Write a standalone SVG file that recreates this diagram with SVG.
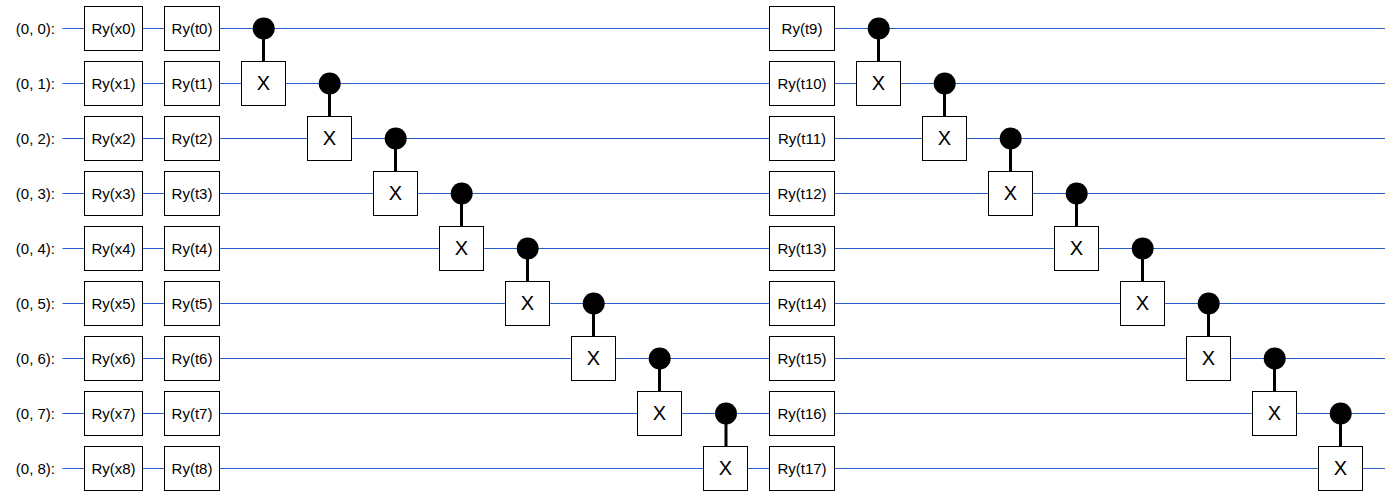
<svg xmlns="http://www.w3.org/2000/svg" width="1395" height="497" viewBox="0 0 1395 497">
<style>
.w{stroke:#2a5fc9;stroke-width:1;fill:none}
.b{fill:#fff;stroke:#000;stroke-width:1}
.c{stroke:#000;stroke-width:3;fill:none}
.d{fill:#000}
text{font-family:"Liberation Sans",Arial,sans-serif;fill:#000;text-anchor:middle;font-size:15px}
.x{font-size:20px}
.l{text-anchor:end}
</style>
<rect width="1395" height="497" fill="#fff"/>
<g id="connectors">
<path class="w" d="M62.5 28.5H1385M62.5 83.5H1385M62.5 138.5H1385M62.5 193.5H1385M62.5 248.5H1385M62.5 303.5H1385M62.5 358.5H1385M62.5 413.5H1385M62.5 468.5H1385"/>
<path class="c" d="M263.5 28.5V61M329.5 83.5V116M395.5 138.5V171M461.5 193.5V226M527.5 248.5V281M593.5 303.5V336M659.5 358.5V391M726 413.5V446M878.5 28.5V61M944.5 83.5V116M1010.5 138.5V171M1076.5 193.5V226M1142.5 248.5V281M1208.5 303.5V336M1274.5 358.5V391M1340.5 413.5V446"/>
</g>
<g id="labels">
<text class="l" x="55" y="33.5">(0, 0):</text><text class="l" x="55" y="88.5">(0, 1):</text><text class="l" x="55" y="143.5">(0, 2):</text><text class="l" x="55" y="198.5">(0, 3):</text><text class="l" x="55" y="253.5">(0, 4):</text><text class="l" x="55" y="308.5">(0, 5):</text><text class="l" x="55" y="363.5">(0, 6):</text><text class="l" x="55" y="418.5">(0, 7):</text><text class="l" x="55" y="473.5">(0, 8):</text>
</g>
<g id="rx0"><rect class="b" x="84.5" y="6.5" width="58" height="44"/><text x="113.5" y="33.5">Ry(x0)</text></g>
<g id="rx1"><rect class="b" x="84.5" y="61.5" width="58" height="44"/><text x="113.5" y="88.5">Ry(x1)</text></g>
<g id="rx2"><rect class="b" x="84.5" y="116.5" width="58" height="44"/><text x="113.5" y="143.5">Ry(x2)</text></g>
<g id="rx3"><rect class="b" x="84.5" y="171.5" width="58" height="44"/><text x="113.5" y="198.5">Ry(x3)</text></g>
<g id="rx4"><rect class="b" x="84.5" y="226.5" width="58" height="44"/><text x="113.5" y="253.5">Ry(x4)</text></g>
<g id="rx5"><rect class="b" x="84.5" y="281.5" width="58" height="44"/><text x="113.5" y="308.5">Ry(x5)</text></g>
<g id="rx6"><rect class="b" x="84.5" y="336.5" width="58" height="44"/><text x="113.5" y="363.5">Ry(x6)</text></g>
<g id="rx7"><rect class="b" x="84.5" y="391.5" width="58" height="44"/><text x="113.5" y="418.5">Ry(x7)</text></g>
<g id="rx8"><rect class="b" x="84.5" y="446.5" width="58" height="44"/><text x="113.5" y="473.5">Ry(x8)</text></g>
<g id="rt0"><rect class="b" x="164.5" y="6.5" width="55" height="44"/><text x="192" y="33.5">Ry(t0)</text></g>
<g id="rt1"><rect class="b" x="164.5" y="61.5" width="55" height="44"/><text x="192" y="88.5">Ry(t1)</text></g>
<g id="rt2"><rect class="b" x="164.5" y="116.5" width="55" height="44"/><text x="192" y="143.5">Ry(t2)</text></g>
<g id="rt3"><rect class="b" x="164.5" y="171.5" width="55" height="44"/><text x="192" y="198.5">Ry(t3)</text></g>
<g id="rt4"><rect class="b" x="164.5" y="226.5" width="55" height="44"/><text x="192" y="253.5">Ry(t4)</text></g>
<g id="rt5"><rect class="b" x="164.5" y="281.5" width="55" height="44"/><text x="192" y="308.5">Ry(t5)</text></g>
<g id="rt6"><rect class="b" x="164.5" y="336.5" width="55" height="44"/><text x="192" y="363.5">Ry(t6)</text></g>
<g id="rt7"><rect class="b" x="164.5" y="391.5" width="55" height="44"/><text x="192" y="418.5">Ry(t7)</text></g>
<g id="rt8"><rect class="b" x="164.5" y="446.5" width="55" height="44"/><text x="192" y="473.5">Ry(t8)</text></g>
<g id="rt9"><rect class="b" x="769.5" y="6.5" width="65" height="44"/><text x="802" y="33.5">Ry(t9)</text></g>
<g id="rt10"><rect class="b" x="769.5" y="61.5" width="65" height="44"/><text x="802" y="88.5">Ry(t10)</text></g>
<g id="rt11"><rect class="b" x="769.5" y="116.5" width="65" height="44"/><text x="802" y="143.5">Ry(t11)</text></g>
<g id="rt12"><rect class="b" x="769.5" y="171.5" width="65" height="44"/><text x="802" y="198.5">Ry(t12)</text></g>
<g id="rt13"><rect class="b" x="769.5" y="226.5" width="65" height="44"/><text x="802" y="253.5">Ry(t13)</text></g>
<g id="rt14"><rect class="b" x="769.5" y="281.5" width="65" height="44"/><text x="802" y="308.5">Ry(t14)</text></g>
<g id="rt15"><rect class="b" x="769.5" y="336.5" width="65" height="44"/><text x="802" y="363.5">Ry(t15)</text></g>
<g id="rt16"><rect class="b" x="769.5" y="391.5" width="65" height="44"/><text x="802" y="418.5">Ry(t16)</text></g>
<g id="rt17"><rect class="b" x="769.5" y="446.5" width="65" height="44"/><text x="802" y="473.5">Ry(t17)</text></g>
<g id="cnot0"><circle class="d" cx="263.7" cy="28.5" r="11"/><rect class="b" x="241.5" y="61.5" width="44" height="44"/><text class="x" x="263.5" y="89.5">X</text></g>
<g id="cnot1"><circle class="d" cx="329.7" cy="83.5" r="11"/><rect class="b" x="307.5" y="116.5" width="44" height="44"/><text class="x" x="329.5" y="144.5">X</text></g>
<g id="cnot2"><circle class="d" cx="395.7" cy="138.5" r="11"/><rect class="b" x="373.5" y="171.5" width="44" height="44"/><text class="x" x="395.5" y="199.5">X</text></g>
<g id="cnot3"><circle class="d" cx="461.7" cy="193.5" r="11"/><rect class="b" x="439.5" y="226.5" width="44" height="44"/><text class="x" x="461.5" y="254.5">X</text></g>
<g id="cnot4"><circle class="d" cx="527.7" cy="248.5" r="11"/><rect class="b" x="505.5" y="281.5" width="44" height="44"/><text class="x" x="527.5" y="309.5">X</text></g>
<g id="cnot5"><circle class="d" cx="593.7" cy="303.5" r="11"/><rect class="b" x="571.5" y="336.5" width="44" height="44"/><text class="x" x="593.5" y="364.5">X</text></g>
<g id="cnot6"><circle class="d" cx="659.7" cy="358.5" r="11"/><rect class="b" x="637.5" y="391.5" width="44" height="44"/><text class="x" x="659.5" y="419.5">X</text></g>
<g id="cnot7"><circle class="d" cx="726" cy="413.5" r="11"/><rect class="b" x="703.5" y="446.5" width="44" height="44"/><text class="x" x="725.5" y="474.5">X</text></g>
<g id="cnot8"><circle class="d" cx="878.7" cy="28.5" r="11"/><rect class="b" x="856.5" y="61.5" width="44" height="44"/><text class="x" x="878.5" y="89.5">X</text></g>
<g id="cnot9"><circle class="d" cx="944.7" cy="83.5" r="11"/><rect class="b" x="922.5" y="116.5" width="44" height="44"/><text class="x" x="944.5" y="144.5">X</text></g>
<g id="cnot10"><circle class="d" cx="1010.7" cy="138.5" r="11"/><rect class="b" x="988.5" y="171.5" width="44" height="44"/><text class="x" x="1010.5" y="199.5">X</text></g>
<g id="cnot11"><circle class="d" cx="1076.7" cy="193.5" r="11"/><rect class="b" x="1054.5" y="226.5" width="44" height="44"/><text class="x" x="1076.5" y="254.5">X</text></g>
<g id="cnot12"><circle class="d" cx="1142.7" cy="248.5" r="11"/><rect class="b" x="1120.5" y="281.5" width="44" height="44"/><text class="x" x="1142.5" y="309.5">X</text></g>
<g id="cnot13"><circle class="d" cx="1208.7" cy="303.5" r="11"/><rect class="b" x="1186.5" y="336.5" width="44" height="44"/><text class="x" x="1208.5" y="364.5">X</text></g>
<g id="cnot14"><circle class="d" cx="1274.7" cy="358.5" r="11"/><rect class="b" x="1252.5" y="391.5" width="44" height="44"/><text class="x" x="1274.5" y="419.5">X</text></g>
<g id="cnot15"><circle class="d" cx="1340.7" cy="413.5" r="11"/><rect class="b" x="1318.5" y="446.5" width="44" height="44"/><text class="x" x="1340.5" y="474.5">X</text></g>
</svg>
